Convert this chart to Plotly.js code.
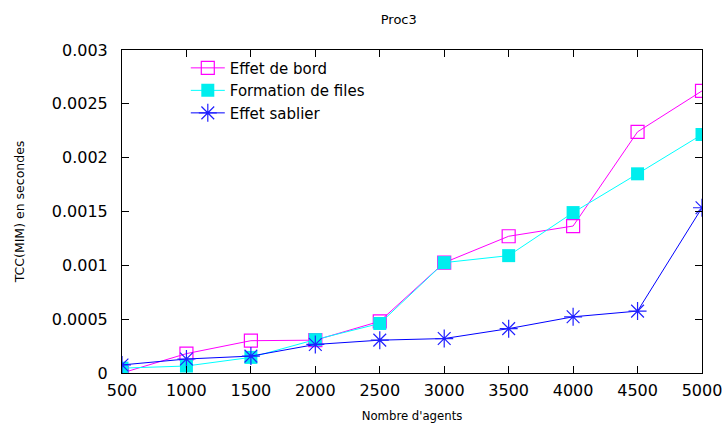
<!DOCTYPE html>
<html>
<head>
<meta charset="utf-8">
<script src="https://cdn.plot.ly/plotly-3.0.1.min.js"></script>
<style>html,body{margin:0;padding:0;background:#fff;}#chart{width:725px;height:423px;}</style>
</head>
<body>
<div id="chart"></div>
<script>
const agents = [500, 1000, 1500, 2000, 2500, 3000, 3500, 4000, 4500, 5000];
const effetDeBord = [0.0, 0.00018, 0.0003, 0.000305, 0.00048, 0.001025, 0.00127, 0.001365, 0.00224, 0.00262];
const formationDeFiles = [0.000045, 0.000065, 0.000145, 0.00031, 0.00046, 0.001025, 0.00109, 0.00149, 0.00185, 0.002215];
const effetSablier = [0.000075, 0.00013, 0.000157, 0.000265, 0.000305, 0.00032, 0.000412, 0.000522, 0.000575, 0.001535];
const seriesNames = ["Effet de bord", "Formation de files", "Effet sablier"];
const yTickVals = [0, 0.0005, 0.001, 0.0015, 0.002, 0.0025, 0.003];
const yTickText = ["0", "0.0005", "0.001", "0.0015", "0.002", "0.0025", "0.003"];

const font = "DejaVu Sans, sans-serif";
const traces = [
  {x: agents, y: effetDeBord, name: seriesNames[0], mode: "lines+markers",
   line: {color: "#ff00ff", width: 1},
   marker: {symbol: "square-open", size: 13, color: "#ff00ff", line: {width: 1.2, color: "#ff00ff"}}},
  {x: agents, y: formationDeFiles, name: seriesNames[1], mode: "lines+markers",
   line: {color: "#00ffff", width: 1},
   marker: {symbol: "square", size: 13, color: "#00eeee"}},
  {x: agents, y: effetSablier, name: seriesNames[2], mode: "lines+markers",
   line: {color: "#0000ff", width: 1},
   marker: {symbol: "asterisk-open", size: 15, color: "#2020ff", line: {width: 1.2, color: "#2020ff"}}}
];

const layout = {
  width: 725, height: 423,
  margin: {l: 122, r: 23, t: 50, b: 50},
  paper_bgcolor: "#fff", plot_bgcolor: "#fff",
  font: {family: font, size: 16, color: "#000"},
  title: {text: "Proc3", font: {family: font, size: 13, color: "#000"}, x: 0.55, xanchor: "center", y: 0.955, yanchor: "middle"},
  showlegend: true,
  legend: {x: 0.11, y: 0.995, xanchor: "left", yanchor: "top", bgcolor: "rgba(255,255,255,0)",
           font: {family: font, size: 15, color: "#000"}, tracegroupgap: 0, itemwidth: 34},
  xaxis: {
    range: [500, 5000], tickvals: agents, ticktext: agents.map(String),
    showgrid: false, zeroline: false, showline: true, linecolor: "#000", linewidth: 1,
    mirror: "allticks", ticks: "inside", ticklen: 7, tickcolor: "#000",
    tickfont: {family: font, size: 16, color: "#000"}, ticklabelstandoff: 3, ticklabeloverflow: "allow",
    title: {text: "Nombre d'agents", font: {family: "DejaVu Sans Condensed, DejaVu Sans, sans-serif", size: 13, color: "#000"}, standoff: 11}
  },
  yaxis: {
    range: [0, 0.003], tickvals: yTickVals, ticktext: yTickText,
    showgrid: false, zeroline: false, showline: true, linecolor: "#000", linewidth: 1,
    mirror: "allticks", ticks: "inside", ticklen: 7, tickcolor: "#000",
    tickfont: {family: font, size: 16, color: "#000"}, ticklabelstandoff: 10, ticklabeloverflow: "allow",
    title: {text: "TCC(MIM) en secondes", font: {family: font, size: 12.5, color: "#000"}, standoff: 24}
  }
};

Plotly.newPlot("chart", traces, layout, {displayModeBar: false, staticPlot: true});
</script>
</body>
</html>
